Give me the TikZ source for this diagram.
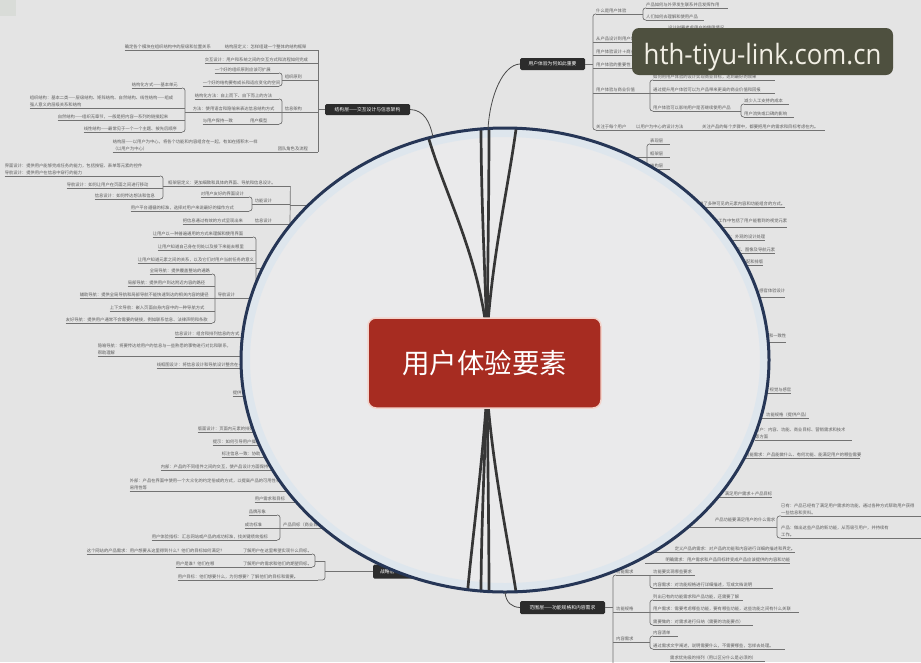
\documentclass[tikz,border=0pt]{standalone}
\usepackage{fontspec}
\newfontfamily\cjk{Noto Sans CJK SC}
\newfontfamily\wmfont{Open Sans}
\definecolor{bgc}{HTML}{E4E4E4}
\definecolor{sqc}{HTML}{D9DCD8}
\definecolor{lensfill}{HTML}{EAEAEB}
\definecolor{rimc}{HTML}{263656}
\definecolor{glowc}{HTML}{DCE6EE}
\definecolor{leafc}{HTML}{5C5C5C}
\definecolor{linec}{HTML}{727272}
\definecolor{darkn}{HTML}{2C2C2C}
\definecolor{redn}{HTML}{A72C21}
\definecolor{redb}{HTML}{F2D3CB}
\definecolor{branchc}{HTML}{363636}
\definecolor{oconnc}{HTML}{4A4A4A}
\definecolor{wmbg}{HTML}{4E503F}
\definecolor{wmtext}{HTML}{F2EFE5}
\newcommand{\lfont}{\cjk\fontsize{4.3}{6.8}\selectfont}
\tikzset{
 lf/.style={font=\lfont, text=leafc, inner xsep=0pt, inner ysep=1pt, align=left},
 uline/.style={draw=linec, line width=0.7pt},
 conn/.style={draw=linec, line width=0.7pt, rounded corners=2.5pt},
 oconn/.style={draw=oconnc, line width=0.8pt},
 iline/.style={draw=branchc, line width=2.7pt},
 dnode/.style={fill=darkn, rounded corners=1.5pt, text=white, font=\cjk\fontsize{4.8}{6}\selectfont, inner sep=0pt},
 cnode/.style={fill=redn, draw=redb, line width=1.5pt, rounded corners=8pt, minimum width=233pt, minimum height=90pt, text=white, font=\cjk\fontsize{27.5}{30}\selectfont, inner sep=0pt},
 wmbox/.style={fill=wmbg, rounded corners=7pt, minimum width=261pt, minimum height=47pt, inner sep=0pt},
 wmtxt/.style={text=wmtext, font=\wmfont\fontsize{28}{30}\selectfont, inner sep=0pt}
}
\newcommand{\leafnode}[6][]{\node[lf,anchor=#3,text width=#5pt,#1] (#2) at (#4) {#6};\draw[uline] (#2.south west) -- (#2.south east);}
\begin{document}
\begin{tikzpicture}[x=1pt,y=-1pt]
\useasboundingbox (0,0) rectangle (921,662);
\fill[bgc] (0,0) rectangle (921,662);
\fill[sqc] (0,0) rectangle (16,16);

% ---------- structure branch (top left)
\node[dnode, minimum width=85pt, minimum height=11pt] (SL) at (367.5,109.5) {结构层——交互设计与信息架构};
\leafnode{l1}{south east}{318,50}{93}{结构层定义：怎样组建一个整体的结构框架}
\leafnode{l1c}{south east}{225,50}{100}{确定各个模块在组织结构中的层级和位置关系}
\leafnode{l2}{south east}{318,63}{113}{交互设计：用户和系统之间的交互方式和流程如何完成}
\leafnode{p3}{south east}{318,80}{33}{组织原则}
\leafnode{c3a}{south east}{279,73}{64}{一个好的组织原则应该可扩展}
\leafnode{c3b}{south east}{279,86}{76}{一个好的结构要有成长和适应变化的空间}
\leafnode{p4}{south east}{318,112}{33}{信息架构}
\leafnode{c4a}{south east}{279,99}{84}{结构化方法：自上而下、自下而上的方法}
\leafnode{c4b}{south east}{279,112}{86}{方法：使用语言和隐喻来表达信息结构方式}
\leafnode{c4c}{south east}{279,124}{76}{与用户保持一致　　　　用户模型}
\leafnode{c5a}{south east}{182,88}{50}{结构化方式——基本单元}
\leafnode{c5b}{south east}{182,108}{152}{组织结构：基本二类——层级结构、矩阵结构、自然结构、线性结构——组成\\强人意义的层级关系和结构}
\leafnode{c5c}{south east}{182,120}{124}{自然结构——组织无章节，一般是把内容一系列的链接起来}
\leafnode{c5d}{south east}{182,132}{98}{线性结构——最常见于一个一个主题、按先后顺序}
\leafnode{p6}{south east}{318,152}{40}{团队角色及流程}
\leafnode{c6}{south east}{278,152}{165}{结构层——以用户为中心，将各个功能和内容组合在一起，有如在搭积木一样\\（以用户为中心）}
\draw[conn] (l1.south east) -- (p6.south east);
\draw[conn] (SL.west) -- (318,109.5);
\draw[conn] (c3a.south east) -| (282,80) |- (c3b.south east);
\draw[conn] (282,80) -- (p3.south west);
\draw[conn] (c4a.south east) -| (282,112) |- (c4c.south east);
\draw[conn] (c4b.south east) -- (p4.south west);
\draw[conn] (c5a.south east) -| (185,112) |- (c5d.south east);
\draw[conn] (c5b.south east) -- (185,108);
\draw[conn] (c5c.south east) -- (185,120);
\draw[conn] (185,112) -- (c4b.south west);

% ---------- framework layer (left middle)
\leafnode{f1}{south west}{168,186}{122}{框架层定义：更加细致和具体的界面、导航和信息设计。}
\leafnode{m1}{south east}{160,176}{155}{界面设计：提供用户能够完成任务的能力，包括按钮、表单等元素的控件\\导航设计：提供用户在信息中穿行的能力}
\leafnode{m2}{south east}{160,188}{93}{导航设计：如何让用户在页面之间进行移动}
\leafnode{m3}{south east}{160,199}{65}{信息设计：如何传达想法和信息}
\draw[conn] (m1.south east) -| (163,186) |- (m3.south east);
\draw[conn] (m2.south east) -- (163,188);
\draw[conn] (163,186) -- (f1.south west);
\leafnode{f2}{south east}{290,204}{35}{功能设计}
\leafnode{f2a}{south east}{249,197}{48}{对用户友好的界面设计}
\leafnode{f2b}{south east}{249,211}{118}{用户平台遵循的标准，选择对用户来说最好的操作方式}
\draw[conn] (f2a.south east) -| (252,204) |- (f2b.south east);
\draw[conn] (252,204) -- (f2.south west);
\leafnode{f3}{south east}{290,224}{35}{信息设计}
\leafnode{f3a}{south east}{255,224}{72}{把信息通过有效的方式呈现出来}
\draw[conn] (f1.south east) -- (f3.south east);
\draw[conn] (290,205) -- (315,205);

\leafnode{g1}{south east}{253,237}{100}{让用户以一种普遍通用的方式来理解和使用界面}
\leafnode{g2}{south east}{253,250}{95}{让用户知道自己身在何处以及接下来能去哪里}
\leafnode{g3}{south east}{253,263}{115}{让用户知道元素之间的关系，以及它们对用户当前任务的意义}
\leafnode{nav}{south east}{253,298}{35}{导航设计}
\draw[conn] (g1.south east) -| (256,268) |- (nav.south east);
\draw[conn] (g2.south east) -- (256,250);
\draw[conn] (g3.south east) -- (256,263);
\draw[conn] (256,268) -- (272,268);
\leafnode{n1}{south east}{212,274}{62}{全局导航：提供覆盖整站的通路}
\leafnode{n2}{south east}{212,286}{84}{局部导航：提供用户到达附近内容的路径}
\leafnode{n3}{south east}{212,298}{132}{辅助导航：提供全局导航和局部导航不能快速到达的相关内容的捷径}
\leafnode{n4}{south east}{212,311}{102}{上下文导航：嵌入页面自身内容中的一种导航方式}
\leafnode{n5}{south east}{212,323}{146}{友好导航：提供用户通常不会需要的链接，例如联系信息、法律声明和条款}
\draw[conn] (n1.south east) -| (215,298) |- (n5.south east);
\draw[conn] (n2.south east) -- (215,286);
\draw[conn] (n3.south east) -- (nav.south west);
\draw[conn] (n4.south east) -- (215,311);

\leafnode{r1}{south east}{250,337}{75}{信息设计：组合和排列信息的方式}
\leafnode{r2}{south east}{250,356}{152}{隐喻导航：将要传达给用户的信息与一些熟悉的事物进行对比和联系，\\帮助理解}
\leafnode{r3}{south east}{250,368}{93}{线框图设计：将信息设计和导航设计整合在一起}
\leafnode{r4}{south east}{250,396}{17}{提供}

% ---------- bottom left
\leafnode{b1}{south east}{262,432}{64}{版面设计：页面内元素的排列}
\leafnode{b2}{south east}{268,445}{55}{提示：如何引导用户操作}
\leafnode{b3}{south east}{272,457}{50}{标注信息一致：协助}
\leafnode{b4}{south east}{285,470}{124}{内部：产品的不同组件之间的交互，使产品设计方面保持一致}
\leafnode{b5}{south east}{300,491}{170}{外部：产品在界面中使用一个大众化的约定俗成的方式，以提高产品的可用性和\\易用性等}
\leafnode{b6}{south east}{300,502}{45}{用户需求和目标}
\leafnode{b7}{south east}{277,515}{28}{品牌形象}
\leafnode{b8}{south east}{277,528}{32}{成功标准}
\leafnode{b9}{south east}{277,540}{125}{用户体验指标：汇总网站或产品的成功标准，找关键绩效指标}
\leafnode{bp}{south west}{283,528}{50}{产品目标（商业目标）}
\draw[conn] (b7.south east) -| (280,528) |- (b9.south east);
\draw[conn] (b8.south east) -- (bp.south west);
\leafnode{b10a}{south east}{225,554}{138}{这个网站的产品需求：用户想要从这里得到什么？他们的目标如何满足？}
\leafnode[align=right]{b10b}{south east}{312,554}{87}{了解用户在这里希望实现什么目标。}
\leafnode{b11a}{south east}{218,567}{42}{用户是谁？他们在哪}
\leafnode[align=right]{b11b}{south east}{312,567}{94}{了解用户的需求和他们的期望目标。}
\leafnode{b12}{south east}{318,580}{140}{用户目标：他们想要什么，为何想要？了解他们的目标和需要。}
\node[dnode, minimum width=80pt, minimum height=14pt] (SL2) at (413,571.5) {战略层——产品目标和用户需求};
\draw[conn] (b10b.south east) -| (315,561) |- (b11b.south east);
\draw[conn] (315,561) -- (325,561);
\draw[conn] (b12.south east) -| (325,561);
\draw[conn] (325,571.5) -- (SL2.west);

% ---------- right side
\leafnode[align=right]{q1}{south west}{690,207}{95}{提供了多种可见的元素内容和功能组合的方式。}
\leafnode[align=right,inner ysep=4pt]{q2}{south west}{700,227}{87}{设计工作中包括了用户能看到的视觉元素}
\leafnode[align=right]{q3}{south west}{700,240}{65}{视觉设计：外观的设计处理}
\leafnode[align=right]{q4}{south west}{705,253}{70}{文本、图形、图像及导航元素}
\leafnode[align=right]{q5}{south west}{715,265}{48}{色彩搭配和排版}
\leafnode[align=right,inner ysep=4pt]{q6}{south west}{725,297}{60}{感官体验设计}
\leafnode[align=right,inner ysep=4pt]{q7}{south west}{740,342}{46}{对比和一致性}
\leafnode[align=right]{q8}{south west}{735,393}{56}{视觉与感官}
\leafnode[align=right]{q9}{south west}{745,418}{64}{功能规格（提供产品）}
\leafnode{q10}{south west}{755,440}{97}{用户：内容、功能、商业目标、营销需求和技术\\等方面}
\leafnode[align=right]{q11}{south west}{745,458}{115}{功能需求：产品能做什么、有何功能、能满足用户的哪些需要}
\leafnode[align=right]{q12}{south west}{700,497}{72}{满足用户需求＋产品目标}
\leafnode[align=right,inner ysep=4.5pt]{q13}{south west}{645,527}{130}{产品功能要满足用户的什么需求}
\leafnode{q13a}{south west}{781,516}{142}{已有：产品已经有了满足用户需求的功能，通过各种方式帮助用户获得\\一些信息和资料。}
\leafnode{q13b}{south west}{781,538}{142}{产品：做出这些产品的新功能，从而吸引用户，并持续有\\工作。}
\draw[conn] (q13a.south west) -| (777,527) |- (q13b.south west);
\draw[conn] (q13.south east) -- (777,527);
\leafnode[align=right]{q14}{south west}{640,552}{155}{定义产品的需求：对产品的功能和内容进行详细的描述和界定。}
\leafnode[align=right]{q15}{south west}{645,563}{145}{明确需求：用户需求和产品目标转变成产品应该提供的内容和功能}

% ---------- scope branch (bottom right)
\node[dnode, minimum width=85pt, minimum height=13pt] (R) at (562.5,607.5) {范围层——功能规格和内容需求};
\leafnode{s1}{south west}{616,575}{32}{功能需求}
\leafnode{s1a}{south west}{653,575}{42}{功能要实现哪些要求}
\leafnode{s1b}{south west}{653,588}{120}{内容需求：对功能规格进行详细描述，写成文档说明}
\draw[conn] (s1.south east) -- (s1a.south west);
\draw[conn] (650,575) |- (s1b.south west);
\leafnode{s2}{south west}{616,612.5}{32}{功能规格}
\leafnode{s2a}{south west}{653,600}{90}{列出已有的功能需求和产品功能，还需要了解}
\leafnode{s2b}{south west}{653,612.5}{146}{用户需求：需要考虑哪些功能，要有哪些功能，这些功能之间有什么关联}
\leafnode{s2c}{south west}{653,625}{100}{需要做的：对需求进行归纳（需要的功能要点）}
\draw[conn] (s2a.south west) -| (650,612.5) |- (s2c.south west);
\draw[conn] (s2.south east) -- (s2b.south west);
\leafnode{s3}{south west}{616,642}{32}{内容需求}
\leafnode{s3a}{south west}{653,636}{25}{内容清单}
\leafnode{s3b}{south west}{653,649}{132}{通过需求文字阐述，说明需要什么，不需要哪些，怎样去处理。}
\draw[conn] (s3a.south west) -| (650,642) |- (s3b.south west);
\draw[conn] (s3.south east) -- (650,642);
\leafnode{s4}{south west}{670,661}{95}{需求优先级的排列（用以区分什么是必须的）}
\draw[conn] (s1.south west) -| (613,666);
\draw[conn] (s2.south west) -- (613,612.5);
\draw[conn] (s3.south west) -- (613,642);
\draw[conn] (R.east) -- (613,607.5);

% ---------- top right
\node[dnode, minimum width=65pt, minimum height=12pt] (U) at (552.5,64) {用户体验为何如此重要};
\leafnode{t1}{south west}{596,14}{44}{什么是用户体验}
\leafnode{t1a}{south west}{646,8}{82}{产品如何与外界发生联系并且发挥作用}
\leafnode{t1b}{south west}{646,20}{58}{人们如何去理解和使用产品}
\draw[conn] (t1a.south west) -| (643,14) |- (t1b.south west);
\draw[conn] (t1.south east) -- (643,14);
\leafnode{t2}{south west}{596,42}{66}{从产品设计到用户体验设计}
\leafnode{t2a}{south west}{668,31}{75}{设计时要考虑用户的使用情况}
\leafnode{t2b}{south west}{668,44}{155}{产品设计不仅要关注功能，更要关注用户使用时的体验}
\draw[conn] (t2a.south west) -| (665,42) |- (t2b.south west);
\draw[conn] (t2.south east) -- (665,42);
\leafnode{t3}{south west}{596,55}{85}{用户体验设计＋商业目标}
\leafnode{t4}{south west}{596,68}{60}{用户体验的重要性}
\leafnode{t5}{south west}{596,93}{50}{用户体验与商业价值}
\leafnode{t5a}{south west}{653,80}{122}{如何用用户体验的设计实现商业目标，达到最好的效果}
\leafnode{t5b}{south west}{653,93}{122}{通过提升用户体验可以为产品带来更高的商业价值和回报}
\leafnode{t5c}{south west}{653,111}{85}{用户体验可以影响用户是否继续使用产品}
\leafnode{t5ca}{south west}{744,104}{45}{减少人工支持的成本}
\leafnode{t5cb}{south west}{744,117}{50}{用户流失或口碑的影响}
\draw[conn] (t5a.south west) -| (650,93) |- (t5c.south west);
\draw[conn] (t5.south east) -- (t5b.south west);
\draw[conn] (t5ca.south west) -| (741,111) |- (t5cb.south west);
\draw[conn] (t5c.south east) -- (741,111);
\leafnode{t6}{south west}{596,130}{40}{关注于每个用户}
\leafnode{t6a}{south west}{636,130}{66}{以用户为中心的设计方法}
\leafnode{t6b}{south west}{702,130}{123}{关注产品的每个步骤中，都要把用户的需求和目标考虑在内。}
\draw[conn] (t1.south west) -| (593,130) -- (t6.south west);
\draw[conn] (t2.south west) -- (593,42);
\draw[conn] (t3.south west) -- (593,55);
\draw[conn] (t4.south west) -- (593,68);
\draw[conn] (t5.south west) -- (593,93);
\draw[conn] (U.east) -- (593,64);
\leafnode{v1}{south west}{650,144}{20}{表现层}
\leafnode{v2}{south west}{650,157}{20}{框架层}
\leafnode{v3}{south west}{650,169}{20}{结构层}
\draw[conn] (v1.south west) -| (647,157) |- (v3.south west);
\draw[conn] (v2.south west) -- (630,157);

% ---------- lens
\fill[lensfill] (505,360) ellipse [x radius=264pt, y radius=232pt];
\draw[glowc, line width=8pt, opacity=.85] (505,360) ellipse [x radius=259pt, y radius=227pt];
\coordinate (ct) at (487,335);
\coordinate (cb) at (487,392);
\begin{scope}
\clip (505,360) ellipse [x radius=263pt, y radius=231pt];
\draw[iline] (ct) .. controls (478,250) and (440,185) .. (425,125);
\draw[iline] (ct) .. controls (484,250) and (481,190) .. (481,122);
\draw[iline] (ct) .. controls (488,250) and (489,190) .. (489,122);
\draw[iline] (ct) .. controls (493,250) and (508,190) .. (517,122);
\draw[iline] (cb) .. controls (482,470) and (472,540) .. (467,598);
\draw[iline] (cb) .. controls (484,470) and (481,540) .. (481,598);
\draw[iline] (cb) .. controls (488,470) and (489,540) .. (489,598);
\draw[iline] (cb) .. controls (493,470) and (508,540) .. (517,598);
\end{scope}
\node[cnode] (C) at (484.5,363) {用户体验要素};
\draw[rimc, line width=3pt] (505,360) ellipse [x radius=264pt, y radius=232pt];

% ---------- outer connectors
\coordinate (rimSL) at (433,137);
\coordinate (rimU) at (488,129);
\coordinate (rimR) at (505,592);
\draw[oconn] (SL.east) .. controls (424,110) and (430,122) .. (rimSL);
\draw[oconn] (rimU) .. controls (490,95) and (503,65) .. (U.west);
\draw[oconn] (rimR) .. controls (506,603) and (512,607) .. (R.west);

% ---------- watermark
\node[wmbox] (W) at (762.5,51.5) {};
\node[wmtxt] (WT) at (762.5,57) {\scalebox{0.92}[1]{hth-tiyu-link.com.cn}};
\end{tikzpicture}
\end{document}
